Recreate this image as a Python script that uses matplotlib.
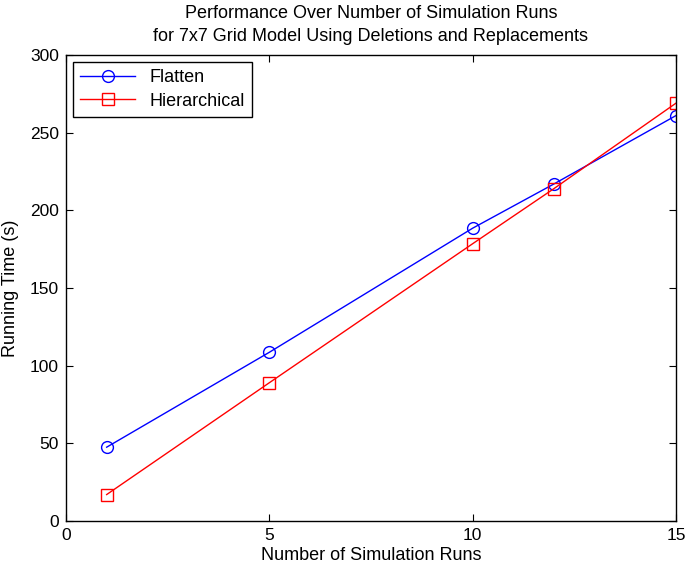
import numpy as np
import matplotlib.pyplot as plt

plt.rcParams["font.family"] = ["Liberation Sans", "DejaVu Sans"]

runs = [1, 5, 10, 12, 15]
flatten = [47.5, 108.6, 188.5, 217, 261]
hierarchical = [17, 89, 178.5, 214, 269]

fig = plt.figure(figsize=(6.86, 5.73), dpi=100)
ax = fig.add_axes([0.0962, 0.0908, 0.8892, 0.8132])

ax.plot(runs, flatten, color="blue", marker="o", markersize=8.5,
        markerfacecolor="none", linewidth=1, label="Flatten")
ax.plot(runs, hierarchical, color="red", marker="s", markersize=8.5,
        markerfacecolor="none", linewidth=1, label="Hierarchical")

ax.set_xlim(0, 15)
ax.set_ylim(0, 300)
ax.set_xticks([0, 5, 10, 15])
ax.set_yticks(np.arange(0, 301, 50))
ax.tick_params(direction="in", top=True, right=True, labelsize=12.5,
               length=5, pad=5)
for s in ax.spines.values():
    s.set_linewidth(1)

ax.set_xlabel("Number of Simulation Runs", fontsize=13, labelpad=3)
ax.set_ylabel("Running Time (s)", fontsize=13, labelpad=8)
ax.set_title("Performance Over Number of Simulation Runs\n"
             "for 7x7 Grid Model Using Deletions and Replacements",
             fontsize=13, pad=10, linespacing=1.45)

leg = ax.legend(loc="upper left", fontsize=13, fancybox=False,
                edgecolor="black", framealpha=1, borderaxespad=0.4,
                handlelength=3.0, labelspacing=0.35)
leg.get_frame().set_linewidth(1)

plt.savefig("out.png")
